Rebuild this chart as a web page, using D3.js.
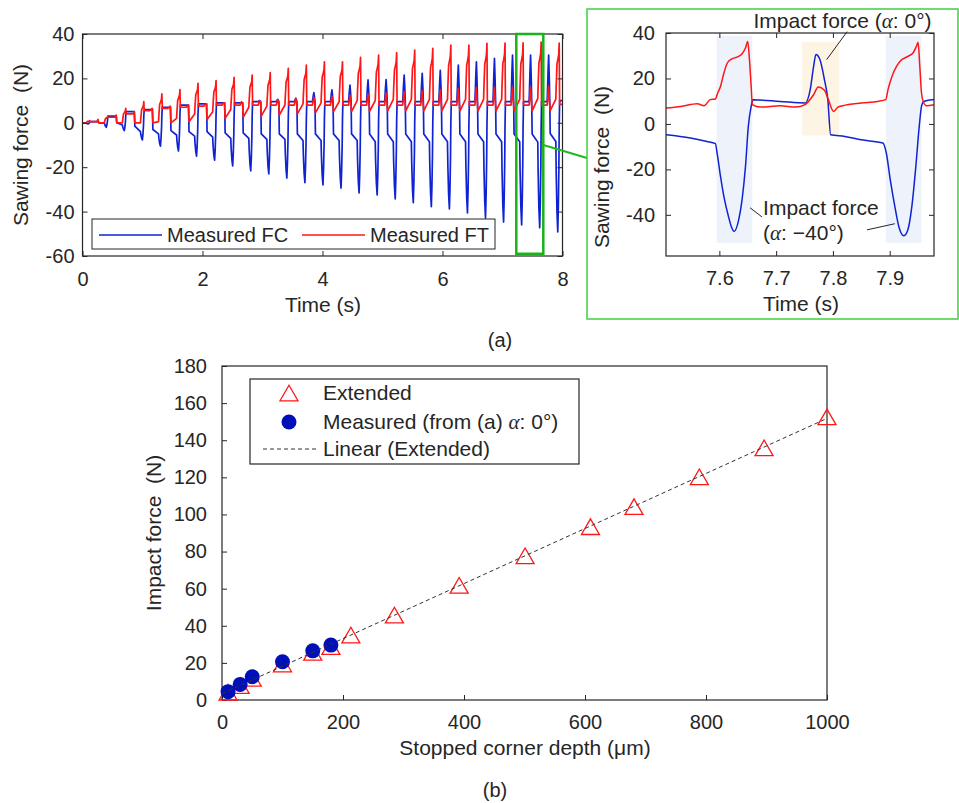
<!DOCTYPE html>
<html>
<head>
<meta charset="utf-8">
<script src="https://cdn.jsdelivr.net/npm/d3@7"></script>
<style>
  body { margin: 0; background: #fff; }
  svg { display: block; font-family: "Liberation Sans", Arial, sans-serif; }
  text { fill: #262626; }
</style>
</head>
<body>
<svg id="chart" width="959" height="803"></svg>
<script>
// ---------------- data: (a) overview, one entry per sawing stroke ----------------
const cycleStart = [0.063, 0.364, 0.665, 0.966, 1.267, 1.568, 1.869, 2.170, 2.471, 2.772, 3.073, 3.374, 3.675, 3.976,
                    4.277, 4.578, 4.879, 5.180, 5.481, 5.782, 6.083, 6.384, 6.685, 6.986, 7.287, 7.588, 7.889];
const fcMin  = [-0.5, -2, -3.5, -7.7, -10.5, -12.7, -15, -16.8, -19.4, -21.7, -23, -24.9, -27, -28,
                -29.4, -31.6, -32.5, -34.3, -36, -37.8, -38.8, -40.6, -42.9, -44.7, -46, -47.3, -49.2];
const fcHigh = [0.5, 3, 5, 6, 7, 8, 8.5, 9, 9, 9.5, 9.5, 9.5, 9.5, 9.5,
                9.5, 9.5, 9.5, 9.5, 9.5, 9.5, 9.5, 9.5, 9.5, 9.5, 9.5, 9.5, 10];
const fcBump = [0.5, 3, 5, 6, 7, 8, 8.5, 9, 9, 10, 10.5, 11, 13.6, 14.8,
                17, 19.3, 19.5, 21.5, 22.3, 23.6, 26, 27.5, 29, 30.5, 30.5, 30.5, 30.5];
const fcMid  = [0, 0, -1.5, -3, -3.5, -4, -4, -4.5, -4.5, -5, -5, -5, -5, -5,
                -5, -5, -5, -5, -5, -5, -5, -5, -5, -5, -5, -4.8, -5];
const fcLow  = [0, 0, -1, -4, -5, -5.5, -6, -6.5, -7, -7, -7.5, -7.5, -8, -8,
                -8, -8, -8.5, -8.5, -8.5, -8.5, -8.5, -8.5, -8.5, -8.5, -8.5, -8.7, -8.4];
const ftMax  = [1, 3, 6.5, 9.5, 13, 15, 17.8, 19, 20.5, 21.5, 22.6, 24.5, 26, 27.5,
                27.5, 29.5, 30.5, 31.6, 32.8, 33.5, 35, 35, 35.8, 35.9, 36, 36.3, 35.9];
const ftPre  = [0, 0, 0, 0, 0.5, 2, 4, 5, 6, 7, 7.5, 8, 8.5, 9,
                9.5, 10, 10, 10.5, 10.5, 10.5, 10.5, 10.5, 10.6, 10.6, 10.6, 11, 10.7];
const ftBase = [0.5, 2.5, 4, 5.5, 6.5, 7, 7.5, 8, 8, 8, 8, 8, 8, 8,
                8, 8, 8, 8, 8, 8, 8, 8, 8, 8, 8, 8, 8.3];
const ftBump = [0.5, 2.5, 4, 6, 7, 7.5, 8.5, 9, 9.5, 10, 10.5, 11, 11.5, 12,
                12.5, 13, 13.5, 14, 14.5, 15, 15.5, 16, 16, 16, 16, 16.2, 16];
const ftDip  = [0, 0, 0, 0, 0, 0.5, 1.5, 2, 2.5, 3, 3.5, 4, 4.5, 5,
                5, 5.2, 5.4, 5.4, 5.4, 5.4, 5.4, 5.4, 5.4, 5.4, 5.4, 5.5, 5.4];

// ---------------- data: (a) zoomed detail [time s, force N] ----------------
const zoomFC = [[7.506, -4.8], [7.549, -6.2], [7.578, -7.7], [7.593, -8.7], [7.596, -12.8], [7.602, -23.1],
  [7.608, -32.0], [7.616, -40.7], [7.622, -45.8], [7.626, -47.3], [7.634, -42.2], [7.640, -33.3],
  [7.646, -18.7], [7.651, -1.1], [7.656, 7.7], [7.659, 10.6], [7.707, 9.9], [7.751, 9.2], [7.760, 15.1],
  [7.766, 25.3], [7.770, 30.5], [7.777, 28.3], [7.785, 19.5], [7.791, 10.7], [7.796, -4.8], [7.821, -5.5],
  [7.850, -7.0], [7.888, -8.4], [7.894, -12.8], [7.901, -24.6], [7.909, -36.3], [7.916, -45.1],
  [7.925, -49.2], [7.932, -46.6], [7.939, -36.3], [7.946, -18.7], [7.952, -1.1], [7.956, 7.7],
  [7.960, 9.9], [7.978, 10.7]];
const zoomFT = [[7.506, 7.0], [7.532, 7.7], [7.561, 8.9], [7.573, 8.0], [7.584, 10.7], [7.593, 11.0],
  [7.597, 13.6], [7.602, 16.5], [7.608, 22.4], [7.614, 26.8], [7.622, 28.6], [7.631, 29.4], [7.640, 30.9],
  [7.646, 33.4], [7.650, 36.3], [7.653, 28.3], [7.656, 16.5], [7.658, 8.5], [7.672, 7.4], [7.707, 8.0],
  [7.734, 7.4], [7.751, 8.5], [7.766, 12.9], [7.774, 16.2], [7.785, 14.8], [7.791, 11.4], [7.801, 5.5],
  [7.809, 7.4], [7.817, 8.0], [7.850, 9.2], [7.879, 9.9], [7.893, 10.7], [7.897, 15.1], [7.904, 20.9],
  [7.912, 25.3], [7.918, 27.5], [7.932, 29.7], [7.941, 31.2], [7.947, 34.1], [7.950, 35.9], [7.953, 25.3],
  [7.956, 13.6], [7.959, 9.9], [7.965, 8.0], [7.978, 8.5]];
const strokeBands = [[7.595, 7.658], [7.893, 7.956]];   // impact at alpha -40
const strokeBandY = [-52.3, 38.8];
const returnBand = [7.746, 7.811];                        // impact at alpha 0
const returnBandY = [-5.1, 36.1];

// ---------------- data: (b) ----------------
const extDepth = [10, 30, 50, 100, 150, 180, 213, 285, 392, 501, 609, 681, 789, 896, 1000];
const extForce = [4.2, 7.8, 11.7, 19.4, 25.7, 28.8, 35, 45.8, 61.8, 77.7, 93.4, 104.2, 120.3, 135.9, 152.6];
const measDepth = [10, 30, 50, 100, 150, 180];
const measForce = [4.5, 8.4, 12.5, 20.6, 26.5, 29.6];

const overviewXTicks = [0, 2, 4, 6, 8];
const overviewYTicks = [-60, -40, -20, 0, 20, 40];
const zoomXTicks = [7.6, 7.7, 7.8, 7.9];
const zoomYTicks = [-40, -20, 0, 20, 40];
const depthTicks = [0, 200, 400, 600, 800, 1000];
const impactTicks = [0, 20, 40, 60, 80, 100, 120, 140, 160, 180];

const BLUE = "#1023d2", RED = "#ff1616", INK = "#262626";
const svg = d3.select("#chart");

// Build one force curve for the overview from the per-stroke readings
function buildFC() {
  const pts = [[0, 0]];
  cycleStart.forEach((t0, k) => {
    const lo = fcLow[k], mn = fcMin[k], hi = fcHigh[k], bp = fcBump[k];
    pts.push(
      [t0, lo],
      [t0 + 0.006, lo + (mn - lo) * 0.35],
      [t0 + 0.019, lo + (mn - lo) * 0.78],
      [t0 + 0.032, mn],
      [t0 + 0.042, mn + (hi - mn) * 0.2],
      [t0 + 0.051, mn + (hi - mn) * 0.5],
      [t0 + 0.056, mn + (hi - mn) * 0.8],
      [t0 + 0.063, hi],
      [t0 + 0.157, hi],
      [t0 + 0.170, hi + (bp - hi) * 0.6],
      [t0 + 0.181, bp],
      [t0 + 0.192, hi + (bp - hi) * 0.5],
      [t0 + 0.200, hi],
      [t0 + 0.207, fcMid[k]]
    );
  });
  return pts;
}

function buildFT() {
  const pts = [[0, 0]];
  cycleStart.forEach((t0, k) => {
    const pre = ftPre[k], mx = ftMax[k], base = ftBase[k];
    pts.push(
      [t0, pre],
      [t0 + 0.006, pre + (mx - pre) * 0.23],
      [t0 + 0.019, pre + (mx - pre) * 0.63],
      [t0 + 0.034, pre + (mx - pre) * 0.71],
      [t0 + 0.048, pre + (mx - pre) * 0.8],
      [t0 + 0.056, mx],
      [t0 + 0.063, base],
      [t0 + 0.157, base],
      [t0 + 0.179, Math.max(ftBump[k], base)],
      [t0 + 0.196, base + 1],
      [t0 + 0.207, ftDip[k]]
    );
  });
  return pts;
}

// Matlab-like box with inward ticks
function boxAxes(g, x, y, cfg) {
  const [x0, x1] = x.range(), [y0, y1] = y.range();
  const style = sel => sel.attr("font-family", null).attr("font-size", cfg.fontSize).style("color", INK);
  g.append("g").attr("transform", `translate(0,${y0})`)
    .call(d3.axisBottom(x).tickValues(cfg.xTicks).tickSize(-5).tickPadding(cfg.xPad).tickFormat(d => String(d)))
    .call(style);
  g.append("g").attr("transform", `translate(${x0},0)`)
    .call(d3.axisLeft(y).tickValues(cfg.yTicks).tickSize(-5).tickPadding(cfg.yPad).tickFormat(d => String(d)))
    .call(style);
  if (cfg.mirror) {
    g.append("g").attr("transform", `translate(0,${y1})`)
      .call(d3.axisTop(x).tickValues(cfg.xTicks).tickSize(-5).tickFormat("")).call(style);
    g.append("g").attr("transform", `translate(${x1},0)`)
      .call(d3.axisRight(y).tickValues(cfg.yTicks).tickSize(-5).tickFormat("")).call(style);
  }
  g.selectAll(".domain").remove();
  g.append("rect")
    .attr("x", x0).attr("y", y1).attr("width", x1 - x0).attr("height", y0 - y1)
    .attr("fill", "none").attr("stroke", INK).attr("stroke-width", 1.2);
}

function axisTitle(x, y, txt, rotate) {
  svg.append("text")
    .attr("transform", `translate(${x},${y})` + (rotate ? " rotate(-90)" : ""))
    .attr("text-anchor", "middle").attr("font-size", 21)
    .style("white-space", "pre")
    .text(txt);
}

function renderOverview() {
  const x = d3.scaleLinear().domain([0, 8]).range([82.5, 562.5]);
  const y = d3.scaleLinear().domain([-60, 40]).range([256, 34]);
  const g = svg.append("g");

  g.append("clipPath").attr("id", "clipA")
    .append("rect").attr("x", 82.5).attr("y", 34).attr("width", 480).attr("height", 222);

  const line = d3.line().x(d => x(d[0])).y(d => y(d[1]));
  const plot = g.append("g").attr("clip-path", "url(#clipA)");
  plot.append("path").attr("d", line(buildFC()))
    .attr("fill", "none").attr("stroke", BLUE).attr("stroke-width", 1.7).attr("stroke-linejoin", "round");
  plot.append("path").attr("d", line(buildFT()))
    .attr("fill", "none").attr("stroke", RED).attr("stroke-width", 1.7).attr("stroke-linejoin", "round");

  boxAxes(g, x, y, { xTicks: overviewXTicks, yTicks: overviewYTicks, xPad: 16, yPad: 8, fontSize: 20, mirror: true });

  // legend
  const lg = g.append("g");
  lg.append("rect").attr("x", 92).attr("y", 219).attr("width", 403).attr("height", 30)
    .attr("fill", "#fff").attr("stroke", INK).attr("stroke-width", 1);
  [[99, BLUE, "Measured FC"], [302, RED, "Measured FT"]].forEach(([lx, c, t]) => {
    lg.append("line").attr("x1", lx).attr("x2", lx + 63).attr("y1", 235).attr("y2", 235)
      .attr("stroke", c).attr("stroke-width", 1.4);
    lg.append("text").attr("x", lx + 68).attr("y", 242).attr("font-size", 20).text(t);
  });

  // highlighted window and connector
  g.append("rect").attr("x", x(7.23)).attr("y", y(40)).attr("width", x(7.68) - x(7.23)).attr("height", y(-59) - y(40))
    .attr("fill", "none").attr("stroke", "#19b219").attr("stroke-width", 2.5);
  g.append("line").attr("x1", x(7.68)).attr("y1", y(-10)).attr("x2", 587).attr("y2", 158)
    .attr("stroke", "#22b822").attr("stroke-width", 2);

  axisTitle(323, 312, "Time (s)");
  axisTitle(28, 145, "Sawing force  (N)", true);
}

function renderZoom() {
  const x = d3.scaleLinear().domain([7.506, 7.978]).range([666, 934]);
  const y = d3.scaleLinear().domain([-58.1, 40]).range([256, 33]);
  const g = svg.append("g");

  g.append("rect").attr("x", 587).attr("y", 9).attr("width", 371).attr("height", 310)
    .attr("fill", "none").attr("stroke", "#3fcf3f").attr("stroke-width", 1.5);

  g.selectAll(".band").data(strokeBands).enter().append("rect")
    .attr("x", d => x(d[0])).attr("width", d => x(d[1]) - x(d[0]))
    .attr("y", y(strokeBandY[1])).attr("height", y(strokeBandY[0]) - y(strokeBandY[1]))
    .attr("fill", "#edf2fb");
  g.append("rect")
    .attr("x", x(returnBand[0])).attr("width", x(returnBand[1]) - x(returnBand[0]))
    .attr("y", y(returnBandY[1])).attr("height", y(returnBandY[0]) - y(returnBandY[1]))
    .attr("fill", "#fdf4e4");

  g.append("clipPath").attr("id", "clipZ")
    .append("rect").attr("x", 666).attr("y", 33).attr("width", 268).attr("height", 223);
  const line = d3.line().x(d => x(d[0])).y(d => y(d[1])).curve(d3.curveMonotoneX);
  const plot = g.append("g").attr("clip-path", "url(#clipZ)");
  plot.append("path").attr("d", line(zoomFC))
    .attr("fill", "none").attr("stroke", BLUE).attr("stroke-width", 1.5);
  plot.append("path").attr("d", line(zoomFT))
    .attr("fill", "none").attr("stroke", RED).attr("stroke-width", 1.5);

  boxAxes(g, x, y, { xTicks: zoomXTicks, yTicks: zoomYTicks, xPad: 15, yPad: 11, fontSize: 20, mirror: true });

  // annotations
  const lead = [[[7.825, 40.6], [7.789, 28.3]], [[7.654, -36.9], [7.675, -40.9]], [[7.860, -46.6], [7.909, -43.9]]];
  lead.forEach(([a, b]) => {
    g.append("line").attr("x1", x(a[0])).attr("y1", y(a[1])).attr("x2", x(b[0])).attr("y2", y(b[1]))
      .attr("stroke", INK).attr("stroke-width", 1);
  });
  const t1 = g.append("text").attr("x", x(7.660)).attr("y", y(42.4)).attr("font-size", 21).text("Impact force (");
  t1.append("tspan").attr("font-family", "Liberation Serif, serif").attr("font-style", "italic").text("α");
  t1.append("tspan").text(": 0°)");
  g.append("text").attr("x", x(7.677)).attr("y", y(-40)).attr("font-size", 21).text("Impact force");
  const t2 = g.append("text").attr("x", x(7.677)).attr("y", y(-51)).attr("font-size", 21).text("(");
  t2.append("tspan").attr("font-family", "Liberation Serif, serif").attr("font-style", "italic").text("α");
  t2.append("tspan").text(": −40°)");

  axisTitle(801, 311, "Time (s)");
  axisTitle(609, 167, "Sawing force  (N)", true);
}

function renderDepth() {
  const x = d3.scaleLinear().domain([0, 1000]).range([222, 827]);
  const y = d3.scaleLinear().domain([0, 180]).range([700, 366]);
  const g = svg.append("g");

  boxAxes(g, x, y, { xTicks: depthTicks, yTicks: impactTicks, xPad: 15, yPad: 15, fontSize: 20, mirror: false });

  const tri = d3.symbol().type(d3.symbolTriangle).size(140);
  const ext = extDepth.map((d, i) => [d, extForce[i]]);
  const meas = measDepth.map((d, i) => [d, measForce[i]]);

  g.selectAll(".ext").data(ext).enter().append("path")
    .attr("class", "ext").attr("d", tri)
    .attr("transform", d => `translate(${x(d[0])},${y(d[1]) + 2.6})`)
    .attr("fill", "none").attr("stroke", RED).attr("stroke-width", 1.3);
  g.selectAll(".meas").data(meas).enter().append("circle")
    .attr("class", "meas").attr("cx", d => x(d[0])).attr("cy", d => y(d[1])).attr("r", 7.5)
    .attr("fill", "#0010b8");

  // least-squares trendline of the extended series
  const mx = d3.mean(extDepth), my = d3.mean(extForce);
  const slope = d3.sum(extDepth, (d, i) => (d - mx) * (extForce[i] - my)) / d3.sum(extDepth, d => (d - mx) ** 2);
  const icpt = my - slope * mx;
  g.append("line")
    .attr("x1", x(0)).attr("y1", y(icpt)).attr("x2", x(1000)).attr("y2", y(icpt + slope * 1000))
    .attr("stroke", "#333").attr("stroke-width", 1).attr("stroke-dasharray", "4,3");

  // legend
  const lg = g.append("g");
  lg.append("rect").attr("x", 250).attr("y", 379).attr("width", 329).attr("height", 85)
    .attr("fill", "#fff").attr("stroke", INK).attr("stroke-width", 1.2);
  lg.append("path").attr("d", tri).attr("transform", "translate(289,395.6)")
    .attr("fill", "none").attr("stroke", RED).attr("stroke-width", 1.3);
  lg.append("circle").attr("cx", 289).attr("cy", 422).attr("r", 7.5).attr("fill", "#0010b8");
  lg.append("line").attr("x1", 263).attr("x2", 317).attr("y1", 449).attr("y2", 449)
    .attr("stroke", "#333").attr("stroke-dasharray", "4,3");
  lg.append("text").attr("x", 323).attr("y", 400).attr("font-size", 21).text("Extended");
  const m = lg.append("text").attr("x", 323).attr("y", 429).attr("font-size", 21).text("Measured (from (a) ");
  m.append("tspan").attr("font-family", "Liberation Serif, serif").attr("font-style", "italic").text("α");
  m.append("tspan").text(": 0°)");
  lg.append("text").attr("x", 323).attr("y", 456).attr("font-size", 21).text("Linear (Extended)");

  axisTitle(525, 755, "Stopped corner depth (μm)");
  axisTitle(161, 533, "Impact force  (N)", true);
}

renderOverview();
renderZoom();
renderDepth();

svg.append("text").attr("x", 500).attr("y", 347).attr("text-anchor", "middle").attr("font-size", 20).text("(a)");
svg.append("text").attr("x", 495).attr("y", 797).attr("text-anchor", "middle").attr("font-size", 20).text("(b)");
</script>
</body>
</html>
